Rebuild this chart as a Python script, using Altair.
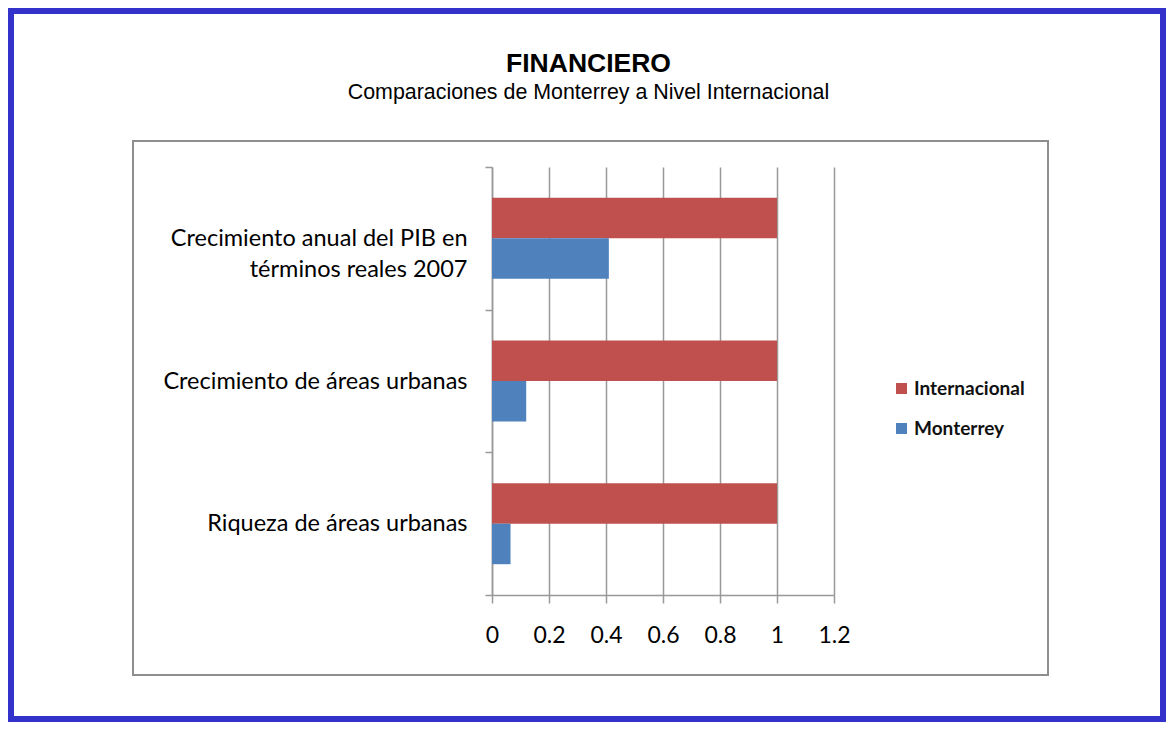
import altair as alt
import pandas as pd

CATEGORIES = [
    "Crecimiento anual del PIB en\ntérminos reales 2007",
    "Crecimiento de áreas urbanas",
    "Riqueza de áreas urbanas",
]
SERIES = ["Internacional", "Monterrey"]
INTERNACIONAL = [1.0, 1.0, 1.0]
MONTERREY = [0.41, 0.12, 0.065]
X_TICKS = [0, 0.2, 0.4, 0.6, 0.8, 1.0, 1.2]
COLORS = ["#C0504D", "#4F81BD"]
TITLE = "FINANCIERO"
SUBTITLE = "Comparaciones de Monterrey a Nivel Internacional"

rows = []
for i, c in enumerate(CATEGORIES):
    rows.append({"cat": c, "serie": SERIES[0], "valor": INTERNACIONAL[i]})
    rows.append({"cat": c, "serie": SERIES[1], "valor": MONTERREY[i]})
df = pd.DataFrame(rows)

TOTAL_W, TOTAL_H = 1158, 714
PL, PT = 484, 159
W, H = 342, 428
PAD = {"left": PL, "top": PT, "right": TOTAL_W - PL - W, "bottom": TOTAL_H - PT - H}

GRAY = "#999999"

bars = alt.Chart(df).mark_bar().encode(
    x=alt.X(
        "valor:Q",
        scale=alt.Scale(domain=[0, 1.2], nice=False, zero=True),
        axis=alt.Axis(
            title=None, values=X_TICKS, format="~g", grid=True, gridColor=GRAY,
            gridWidth=1.5, domainColor=GRAY, domainWidth=1.5, tickColor=GRAY,
            tickWidth=1.5, tickSize=8, labelFont="Lato", labelFontSize=23,
            labelColor="#000000", labelPadding=21, labelFlush=False,
            labelOverlap=False,
        ),
    ),
    y=alt.Y(
        "cat:N",
        sort=CATEGORIES,
        scale=alt.Scale(paddingInner=0, paddingOuter=0),
        axis=alt.Axis(
            title=None, tickBand="extent", grid=False, domainColor=GRAY,
            domainWidth=1.5, tickColor=GRAY, tickWidth=1.5, tickSize=7,
            labelFont="Lato", labelFontSize=23.5, labelColor="#000000",
            labelPadding=18, labelLimit=500, labelLineHeight=31,
            labelExpr="split(datum.label, '\\n')",
        ),
    ),
    yOffset=alt.YOffset(
        "serie:N", sort=SERIES,
        scale=alt.Scale(paddingInner=0, paddingOuter=0.76),
    ),
    color=alt.Color(
        "serie:N",
        sort=SERIES,
        scale=alt.Scale(domain=SERIES, range=COLORS),
        legend=alt.Legend(
            title=None, orient="none", legendX=400, legendY=212,
            symbolType="square", symbolSize=121, symbolStrokeWidth=0,
            labelFont="Lato", labelFontSize=19, labelFontWeight="bold",
            labelColor="#111111", rowPadding=20, labelOffset=3,
        ),
    ),
)

one = pd.DataFrame({"k": [0]})
blue_frame = alt.Chart(one).mark_rect(filled=False, stroke="#3333CC", strokeWidth=6).encode(
    x=alt.value(-PL + 3), x2=alt.value(TOTAL_W - PL - 3),
    y=alt.value(-PT + 3), y2=alt.value(TOTAL_H - PT - 3),
)
gray_frame = alt.Chart(one).mark_rect(filled=False, stroke="#8e8e8e", strokeWidth=2).encode(
    x=alt.value(125 - PL), x2=alt.value(1040 - PL),
    y=alt.value(133 - PT), y2=alt.value(667 - PT),
)

title = alt.Chart(pd.DataFrame({"t": [TITLE]})).mark_text(
    font="Liberation Sans", fontSize=26.5, fontWeight="bold", align="center",
    baseline="alphabetic", color="#000000",
).encode(text="t:N", x=alt.value(580.5 - PL), y=alt.value(64.3 - PT))

subtitle = alt.Chart(pd.DataFrame({"t": [SUBTITLE]})).mark_text(
    font="Liberation Sans", fontSize=21.4, align="center",
    baseline="alphabetic", color="#000000",
).encode(text="t:N", x=alt.value(580.5 - PL), y=alt.value(91 - PT))

chart = alt.layer(blue_frame, gray_frame, bars, title, subtitle).properties(
    width=W, height=H, padding=PAD, autosize=alt.AutoSizeParams(type="none"),
    background="#ffffff",
).configure_view(stroke=None)

chart.save("out.html", embed_options={"renderer": "svg", "actions": False})
